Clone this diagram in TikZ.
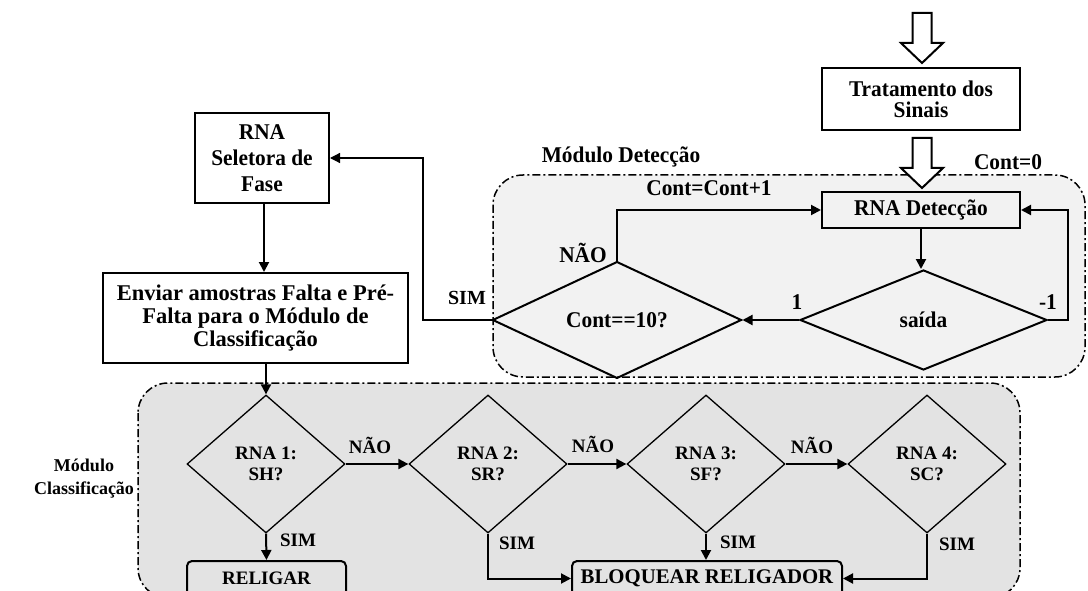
\documentclass[tikz,border=0pt]{standalone}
\usepackage{fontspec}
\setmainfont{Liberation Serif}
\newfontfamily\narrowserif{Liberation Serif}[FakeStretch=0.95]
\usetikzlibrary{arrows.meta,shapes.geometric}
\definecolor{detfill}{HTML}{F2F2F2}
\definecolor{clsfill}{HTML}{E3E3E3}
% hollow block arrow pointing down: x, top of shaft, tip
\newcommand\hollowdown[3]{%
  \draw[line width=2pt, fill=white, line join=miter]
    (#1-9.5,#2) -- (#1+9.5,#2) -- (#1+9.5,#3-20) -- (#1+21,#3-20)
    -- (#1,#3) -- (#1-21,#3-20) -- (#1-9.5,#3-20) -- cycle;}
\begin{document}
\begin{tikzpicture}[x=1pt,y=-1pt,
  fdet/.style={font=\narrowserif\fontsize{22.5}{#1}\selectfont\bfseries},
  fdet/.default=24,
  fcls/.style={font=\fontsize{19}{21}\selectfont\bfseries},
  box/.style={draw, line width=2pt, fill=white, align=center, inner sep=0pt},
  rbox/.style={draw, line width=2pt, fill=clsfill, rounded corners=5pt, inner sep=0pt, fcls},
  bigdec/.style={draw, diamond, line width=2pt, inner sep=0pt, fdet},
  smalldec/.style={draw, diamond, line width=1.3pt, inner sep=0pt, align=center,
    minimum width=158pt, minimum height=138pt, fcls},
  lbl/.style={inner sep=0pt, text height=15pt, text depth=0pt},
  dlbl/.style={lbl, fdet},
  clbl/.style={inner sep=0pt, text height=13pt, text depth=0pt, fcls},
  region/.style={line width=1.5pt, dash pattern=on 8pt off 3pt on 2pt off 3pt, rounded corners=30pt},
  conn/.style={line width=2pt, -{Triangle[length=10pt,width=10pt]}},
  thinconn/.style={line width=1.2pt, -{Triangle[length=10pt,width=10pt]}},
]
\useasboundingbox (0,0) rectangle (1088,591);

% module frames
\draw[region, fill=detfill] (493,175) rectangle (1085,377);
\draw[region, fill=clsfill] (138,383) rectangle (1020,598);

% upper chain
\node[box, fdet=21, minimum width=198pt, minimum height=62pt] (trat) at (921,99) {Tratamento dos\\Sinais};
\node[box, fdet, fill=detfill, minimum width=198pt, minimum height=36pt] (det) at (921,210) {RNA Detecção};
\node[bigdec, minimum width=247pt, minimum height=100pt] (said) at (923.5,320) {saída};
\node[bigdec, minimum width=249pt, minimum height=100pt] (cont) at (617,320) {Cont==10?};
\node[box, fdet=26, minimum width=134pt, minimum height=90pt] (sel) at (262,158) {RNA\\Seletora de\\Fase};
\node[box, minimum width=305pt, minimum height=90pt,
  font=\fontsize{22.5}{23}\selectfont\bfseries] (env) at (255.5,318)
  {Enviar amostras Falta e Pré-\\Falta para o Módulo de\\Classificação};

% hollow input arrows
\hollowdown{922}{13}{63}
\hollowdown{922}{138}{188}

% classification chain
\node[smalldec] (r1) at (266,464) {RNA 1:\\SH?};
\node[smalldec] (r2) at (488,464) {RNA 2:\\SR?};
\node[smalldec] (r3) at (706,464) {RNA 3:\\SF?};
\node[smalldec] (r4) at (927,464) {RNA 4:\\SC?};
\node[rbox, minimum width=159pt, minimum height=35pt] (rel) at (266.5,578.5) {RELIGAR};
\node[rbox, font=\fontsize{20.8}{22}\selectfont\bfseries, minimum width=270pt, minimum height=35pt] (bloq) at (707,578.5) {BLOQUEAR RELIGADOR};

% detection loop
\draw[conn] (det.south) -- (det.south |- said.north);
\draw[conn] (said.west) -- (cont.east);
\draw[conn] (said.east) -- (1068,320) |- (det.east);
\draw[conn] (cont.north) |- (det.west);
\draw[thinconn] (cont.west) -- (423,320) |- (sel.east);
\draw[conn] (sel.south -| 264,0) -- (env.north -| 264,0);
\draw[conn] (env.south -| r1.north) -- (r1.north);

% classification links
\draw[conn] (r1.east) -- (r2.west);
\draw[conn] (r2.east) -- (r3.west);
\draw[conn] (r3.east) -- (r4.west);
\draw[conn] (r1.south) -- (rel.north);
\draw[conn] (r2.south) |- (bloq.west);
\draw[conn] (r3.south) -- (r3.south |- bloq.north);
\draw[conn] (r4.south) |- (bloq.east);

% labels
\node[dlbl] (ldet) at (621,155) {Módulo Detecção};
\node[dlbl] (lc0) at (1008,162) {Cont=0};
\node[dlbl] (lcinc) at (709,188) {Cont=Cont+1};
\node[dlbl] (lnao0) at (583,255) {NÃO};
\node[dlbl] (lone) at (797,302) {1};
\node[dlbl] (lmone) at (1048,302) {-1};
\node[lbl, font=\fontsize{20}{22}\selectfont\bfseries] (lsim0) at (467,297) {SIM};
\node[align=center, inner sep=0pt, font=\fontsize{18}{23}\selectfont\bfseries] (lcls) at (84,479) {Módulo\\Classificação};
\node[clbl] (lnao1) at (370,447) {NÃO};
\node[clbl] (lnao2) at (593,446) {NÃO};
\node[clbl] (lnao3) at (812,447) {NÃO};
\node[clbl] (lsim1) at (298,540) {SIM};
\node[clbl] (lsim2) at (517,543) {SIM};
\node[clbl] (lsim3) at (738,542) {SIM};
\node[clbl] (lsim4) at (957,544) {SIM};
\end{tikzpicture}
\end{document}
